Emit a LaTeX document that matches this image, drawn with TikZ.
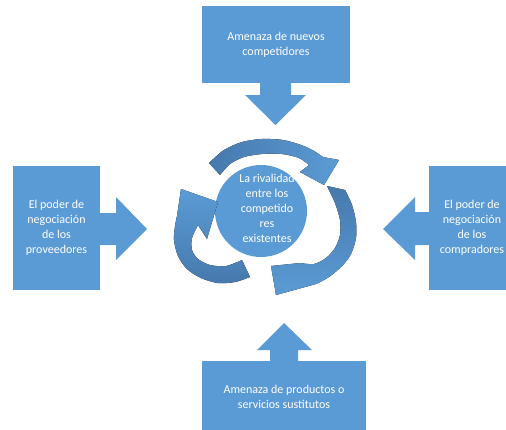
\documentclass[tikz,border=0pt]{standalone}
\usepackage{fontspec}
\setmainfont{Carlito}
\definecolor{boxblue}{HTML}{5B9BD5}
\definecolor{darkblue}{HTML}{4679AD}
\begin{document}
\begin{tikzpicture}[x=1pt,y=-1pt,
  lbl/.style={text=white,font=\fontsize{12}{15}\selectfont,align=center},
  blockbox/.style={lbl,fill=boxblue,draw=none,rectangle,inner sep=0pt},
  blockarrow/.style={fill=boxblue,draw=none}]
\useasboundingbox (0,0) rectangle (506,429);
\clip (0,0) rectangle (506,429);
% top
\node[blockbox,minimum width=148pt,minimum height=77pt] (top) at (276,44.5) {Amenaza de nuevos\\competidores};
\fill[blockarrow] (260,82) -- (291,82) -- (291,95) -- (306,95) -- (275.5,125) -- (245,95) -- (260,95) -- cycle;
% left
\node[blockbox,minimum width=87pt,minimum height=124pt] (left) at (56.5,228) {El poder de\\negociación\\de los\\proveedores};
\fill[blockarrow] (99,213) -- (116,213) -- (116,197) -- (147,229) -- (116,260) -- (116,245) -- (99,245) -- cycle;
% right
\node[blockbox,minimum width=86pt,minimum height=124pt] (right) at (472,228) {El poder de\\negociación\\de los\\compradores};
\fill[blockarrow] (430,212) -- (415,212) -- (415,197) -- (383,229) -- (415,260) -- (415,245) -- (430,245) -- cycle;
% bottom
\node[blockbox,minimum width=164pt,minimum height=71pt] (bottom) at (284,396.5) {Amenaza de productos o\\servicios sustitutos};
\fill[blockarrow] (270,362) -- (270,350) -- (257,350) -- (284,323) -- (312,350) -- (298,350) -- (298,362) -- cycle;
% center
\node[circle,fill=boxblue,minimum size=92pt,inner sep=0pt] (c) at (261,211) {};
\node[lbl] (ctext) at (267,208) {La rivalidad\\entre los\\competido\\res\\existentes};
% circular arrows
\fill[left color=darkblue,right color=boxblue]
  plot[smooth] coordinates {(209,163) (224,150) (242,142) (262,139) (283,140) (301,145) (314,151) (323,157)}
  -- (339,160) -- (324,185) -- (300,172)
  -- plot[smooth] coordinates {(309,165) (299,158) (282,154) (262,154) (244,157) (230,164) (220,175)} -- cycle;
\fill[top color=darkblue,bottom color=boxblue]
  plot[smooth] coordinates {(345,190) (352,205) (356,222) (356,238) (351,254) (342,266) (329,277) (316,284)}
  -- (276,295) -- (271,266) -- (300,263)
  -- plot[smooth] coordinates {(300,263) (314,264) (326,258) (335,248) (340,235) (340,220) (335,203) (327,186)} -- cycle;
\fill[bottom color=darkblue,top color=boxblue]
  plot[smooth] coordinates {(250,277) (235,282) (218,283) (201,278) (187,269) (178,256) (174,240) (175,226) (177,216)}
  -- (181,189) -- (218,202) -- (207,239) -- (198,225)
  -- plot[smooth] coordinates {(198,225) (192,238) (192,250) (198,259) (210,265) (226,266) (242,260)} -- cycle;
\end{tikzpicture}
\end{document}
